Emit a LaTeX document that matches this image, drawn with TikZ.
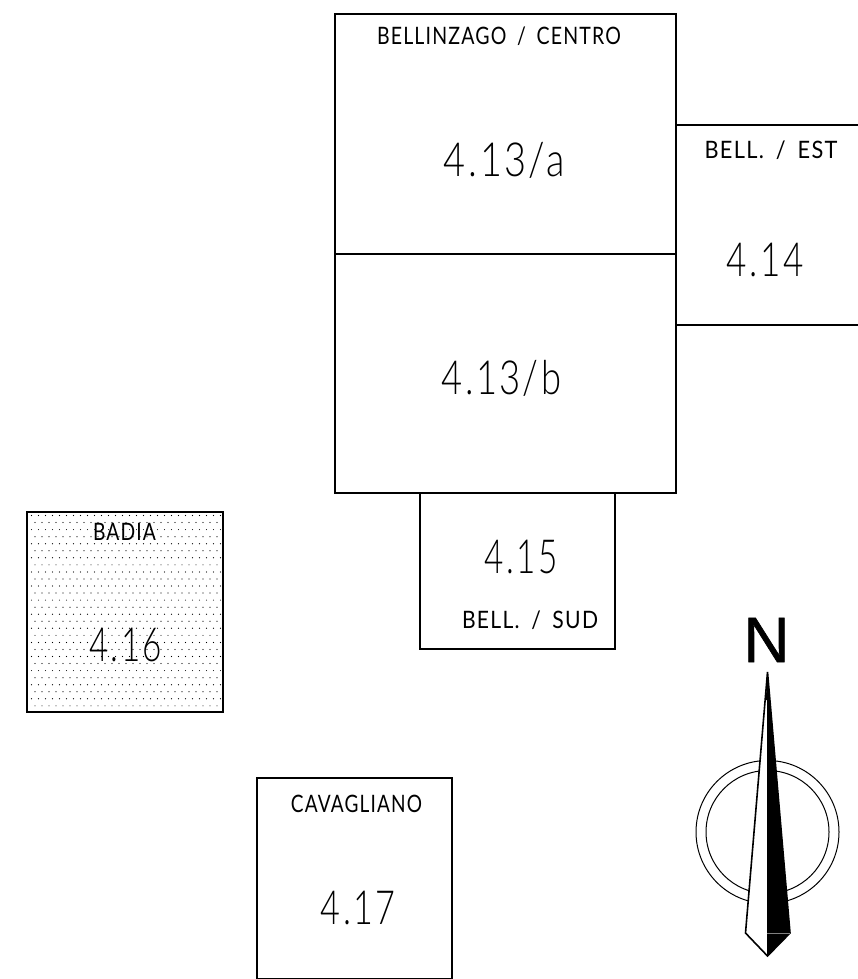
\documentclass[tikz,border=0pt]{standalone}
\usepackage{fontspec}
\usepackage{graphicx}
\setmainfont{Lato Light}
\newfontfamily\smallfont[LetterSpace=6]{Lato}
\newfontfamily\northfont[FakeBold=1]{Liberation Sans}
\newcommand{\fitw}[2]{\resizebox{#1pt}{\height}{#2}}
\newcommand{\gap}{\hspace{0.55em}/\hspace{0.55em}}
\newcommand{\pt}{\hspace{0.08em}.\hspace{0.08em}}
\tikzset{
  x=1pt,y=-1pt,
  zone/.style={draw=black,line width=1.1pt,fill=white},
  small/.style={inner sep=0pt,font=\smallfont\fontsize{24}{26}\selectfont},
  big/.style={inner sep=0pt,font=\fontsize{47}{50}\selectfont\addfontfeatures{LetterSpace=6}},
}
\begin{document}
\begin{tikzpicture}
\useasboundingbox (0,0) rectangle (858,979);
\fill[white] (0,0) rectangle (858,979);
% areas
\draw[zone] (335,14) rectangle (676,493);
\draw[zone] (335,254) -- (676,254);
\draw[zone] (858,125) -- (676,125) -- (676,325) -- (858,325);
\draw[zone] (420,493) rectangle (615,649);
\draw[zone] (27,512) rectangle (223,712);
\draw[zone] (257,778) rectangle (452,979);
% dots
\foreach \r in {0,...,27} {
  \pgfmathsetmacro{\off}{mod(\r,2)*3.5}
  \foreach \c in {0,...,27} {
    \pgfmathsetmacro{\xx}{31.5+\off+\c*7}
    \ifdim\xx pt<221pt
      \fill (\xx,515.5+\r*7.05) circle (0.6);
    \fi
  }
}
% labels
\node[small] (t1) at (499,36) {\fitw{244}{BELLINZAGO\gap CENTRO}};
\node[big] (n1) at (504,160) {\fitw{121}{4\pt 13/a}};
\node[big] (n2) at (501,378) {\fitw{120}{4\pt 13/b}};
\node[small] (t2) at (771,150) {\fitw{133}{BELL.\gap EST}};
\node[big] (n3) at (765,260) {\fitw{77}{4\pt 14}};
\node[big] (n4) at (521,557) {\fitw{73}{4\pt 15}};
\node[small] (t3) at (530,620) {\fitw{136}{BELL.\gap SUD}};
\node[small] (t4) at (124.5,532) {\fitw{63}{BADIA}};
\node[big] (n5) at (125.5,645) {\fitw{73}{4\pt 16}};
\node[small] (t5) at (356.5,804) {\fitw{131}{CAVAGLIANO}};
\node[big] (n6) at (358,908) {\fitw{75}{4\pt 17}};
% north arrow
\coordinate (c) at (767.5,832);
\draw[line width=1pt] (c) circle (71.5);
\draw[line width=1pt] (c) circle (61.5);
\filldraw[fill=white,draw=black,line width=1.6pt,line join=miter] (767.5,672) -- (745.5,933) -- (767.5,956) -- (790,933) -- cycle;
\fill (767.5,672) -- (765.8,700) -- (767,700) -- (767,956) -- (790,933) -- cycle;
\draw[gray,line width=0.6pt] (767,933) -- (790,933);
\node[inner sep=0pt,font=\northfont\fontsize{64}{64}\selectfont] (north) at (766.5,640) {N};
\end{tikzpicture}
\end{document}
